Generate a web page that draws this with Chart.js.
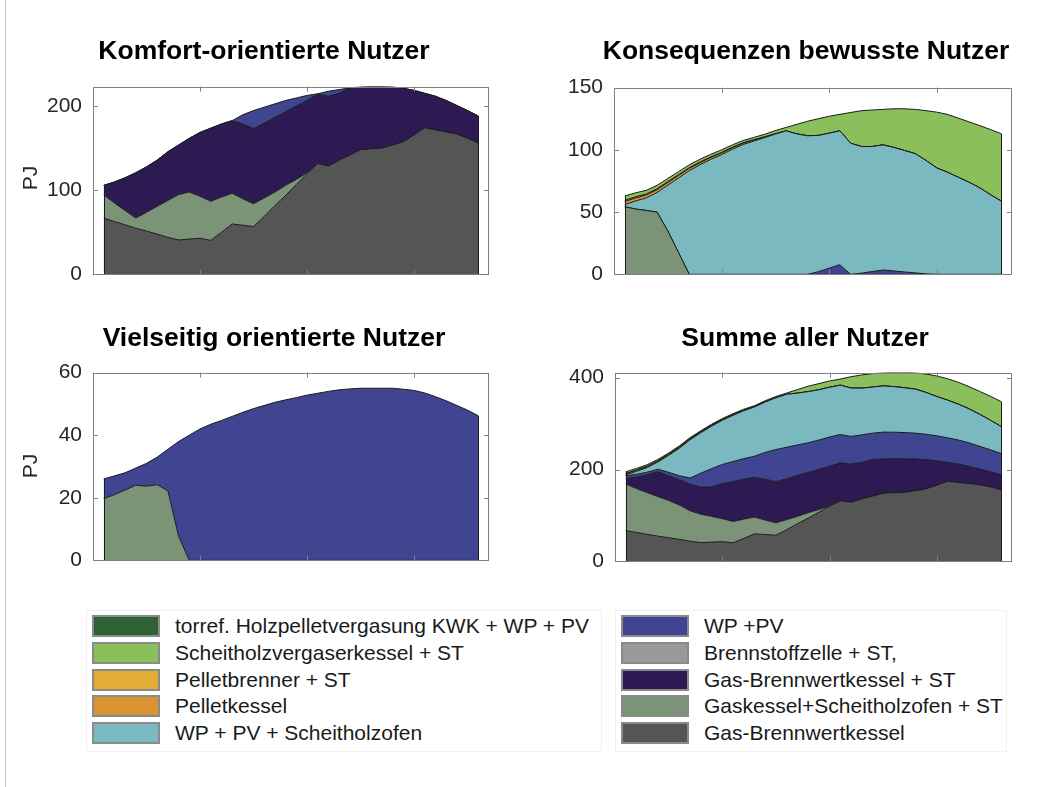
<!DOCTYPE html>
<html>
<head>
<meta charset="utf-8">
<script src="https://cdn.jsdelivr.net/npm/chart.js@4.4.1/dist/chart.umd.min.js"></script>
<style>
  body { margin: 0; background: #fff; font-family: "Liberation Sans", Arial, sans-serif; }
  #fig { position: relative; width: 1051px; height: 787px; overflow: hidden; }
  #fig canvas { position: absolute; }
  #edge { position: absolute; left: 5px; top: 0; width: 1px; height: 787px; background: #c4c4c4; }
  .ttl { position: absolute; width: 500px; text-align: center; font-weight: bold; font-size: 26.5px; color: #000; line-height: normal; }
  .ylab { position: absolute; width: 60px; text-align: center; font-size: 21px; color: #262626; transform: rotate(-90deg); }
  .lgframe { position: absolute; border: 1px solid #f0f0f0; }
  .lgrow { position: absolute; height: 22px; line-height: 22px; font-size: 21px; color: #1a1a1a; white-space: nowrap; }
  .lgrow span.box { position: absolute; left: 0; top: 0; width: 64px; height: 18px; border: 2px solid #8a8a8a; }
  .lgrow span.txt { position: absolute; left: 83px; top: 0; }
</style>
</head>
<body>
<div id="fig">
  <div id="edge"></div>
  <canvas id="cKomfort"></canvas>
  <canvas id="cKons"></canvas>
  <canvas id="cViel"></canvas>
  <canvas id="cSumme"></canvas>
  <div class="ttl" style="left:14px; top:35px;">Komfort-orientierte Nutzer</div>
  <div class="ttl" style="left:556px; top:35px;">Konsequenzen bewusste Nutzer</div>
  <div class="ttl" style="left:24px; top:322px;">Vielseitig orientierte Nutzer</div>
  <div class="ttl" style="left:555px; top:322px;">Summe aller Nutzer</div>
  <div class="ylab" style="left:0px; top:166px;">PJ</div>
  <div class="ylab" style="left:0px; top:454px;">PJ</div>
  <div id="legend"></div>
</div>
<script>
// x positions (years) and axis ticks
const years = [2011, 2012, 2013, 2014, 2015, 2016, 2017, 2018, 2019, 2020,
               2021, 2022, 2023, 2024, 2025, 2026, 2027, 2028, 2029, 2030,
               2031, 2032, 2033, 2034, 2035, 2036, 2037, 2038, 2039, 2040,
               2041, 2042, 2043, 2044, 2045, 2046];
const xTicks = [2020, 2030, 2040];
const yTicksKomfort = [0, 100, 200];
const yTicksKons = [0, 50, 100, 150];
const yTicksViel = [0, 20, 40, 60];
const yTicksSumme = [0, 200, 400];

// Komfort-orientierte Nutzer (PJ)
const komfortGasBW = [67, 63, 59, 55, 51.5, 48, 44, 41, 42, 43, 40.5, 50, 60, 58.5, 57, 69, 82, 94, 107, 120,
                      132, 129, 136, 142, 148.5, 149.5, 150.5, 154, 158, 166, 174.5, 172, 169.5, 167, 162, 156];
const komfortGasScheit = [27.6, 22, 17, 12, 22.5, 33, 44, 54, 56, 50, 46.5, 42, 36.5, 31.5, 27, 22, 16, 12, 6, 1,
                          0, 0, 0, 0, 0, 0, 0, 0, 0, 0, 0, 0, 0, 0, 0, 0];
const komfortGasBWST = [11.4, 25, 39, 54, 54, 55, 58, 59, 64, 76, 87, 87, 86.5, 89, 89.5, 89, 89, 87.5, 87.5, 86,
                        82.5, 83, 79.5, 80, 74.5, 74, 73, 69, 63.5, 53, 41, 40, 37.5, 34, 33, 32.5];
const komfortWPPV = [0, 0, 0, 0, 0, 0, 0, 0, 0, 0, 0, 0, 0, 11, 21.5, 19, 16, 13.5, 9.5, 6,
                     0.5, 6, 4.5, 0, 0, 0, 0, 0, 0, 0, 0, 0, 0, 0, 0, 0];

// Konsequenzen bewusste Nutzer (PJ)
const konsGasScheit = [54.3, 52.5, 51.3, 50, 35, 17.5, 0, 0, 0, 0, 0, 0, 0, 0, 0, 0, 0, 0, 0, 0,
                       0, 0, 0, 0, 0, 0, 0, 0, 0, 0, 0, 0, 0, 0, 0, 0];
const konsWPPV = [0, 0, 0, 0, 0, 0, 0, 0, 0, 0, 0, 0, 0, 0, 0, 0, 0, 0, 2.2, 5,
                  7.8, 0, 1, 2.3, 3.5, 2.8, 2, 1.2, 0.4, 0, 0, 0, 0, 0, 0, 0];
const konsWPPVScheit = [1.7, 6.5, 10.1, 15.8, 36.7, 59.9, 83.3, 88.1, 92.4, 96.1, 100.5, 104.3, 107.1, 109.8, 112.7,
                        115.3, 112.8, 111.3, 109.4, 108.4, 107.5, 105.3, 101.7, 100.4, 100.5, 99.2, 97.5, 95.8,
                        91.1, 85.5, 82, 78, 74, 69.5, 64, 58.8];
const konsPelletkessel = [2.5, 2.4, 2.3, 2.2, 2.1, 2, 1.8, 1.6, 1.5, 1.4, 1.2, 1, 0.8, 0.5, 0.2, 0, 0, 0, 0, 0,
                          0, 0, 0, 0, 0, 0, 0, 0, 0, 0, 0, 0, 0, 0, 0, 0];
const konsPelletbrenner = [1, 0.9, 0.9, 0.8, 0.7, 0.7, 0.6, 0.6, 0.5, 0.5, 0.4, 0.4, 0.3, 0.2, 0.1, 0, 0, 0, 0, 0,
                           0, 0, 0, 0, 0, 0, 0, 0, 0, 0, 0, 0, 0, 0, 0, 0];
const konsScheitVerg = [3.5, 3.2, 2.9, 2.7, 2.5, 2.4, 2.3, 2.2, 2.1, 2, 1.9, 1.8, 1.8, 2, 2.5, 2.7, 7.7, 11.7, 13.4, 13.6,
                        13.2, 24.7, 28.8, 29.3, 28.5, 31, 33.5, 35.5, 40, 44.8, 46.5, 47.5, 48.5, 50, 52.3, 54.2];

// Vielseitig orientierte Nutzer (PJ)
const vielGasScheit = [19.7, 21, 22.5, 24, 23.7, 24.2, 22.2, 7.7, 0, 0, 0, 0, 0, 0, 0, 0, 0, 0, 0, 0,
                       0, 0, 0, 0, 0, 0, 0, 0, 0, 0, 0, 0, 0, 0, 0, 0];
const vielWPPV = [6.3, 6, 5.5, 5.5, 7.3, 8.8, 13.3, 30.3, 40, 42, 43.5, 44.7, 46, 47.3, 48.5, 49.5, 50.5, 51.3, 52, 52.8,
                  53.4, 54, 54.5, 54.8, 55, 55, 55, 55, 54.7, 54.3, 53.5, 52.3, 51, 49.5, 48, 46.2];

// technologies, bottom of the stack first
const techs = [
  { key: 'gasBW', label: 'Gas-Brennwertkessel', color: '#555555' },
  { key: 'gasScheit', label: 'Gaskessel+Scheitholzofen + ST', color: '#7b9477' },
  { key: 'gasBWST', label: 'Gas-Brennwertkessel + ST', color: '#2d1a52' },
  { key: 'brennstoff', label: 'Brennstoffzelle + ST,', color: '#999999' },
  { key: 'wppv', label: 'WP +PV', color: '#3f4590' },
  { key: 'wppvScheit', label: 'WP +  PV + Scheitholzofen', color: '#7bb9c1' },
  { key: 'pelletkessel', label: 'Pelletkessel', color: '#d99333' },
  { key: 'pelletbrenner', label: 'Pelletbrenner + ST', color: '#e2ad35' },
  { key: 'scheitVerg', label: 'Scheitholzvergaserkessel + ST', color: '#8bbf5b' },
  { key: 'torref', label: 'torref. Holzpelletvergasung KWK + WP + PV', color: '#2e6133' },
];

const komfort = { gasBW: komfortGasBW, gasScheit: komfortGasScheit, gasBWST: komfortGasBWST, wppv: komfortWPPV };
const kons = { gasScheit: konsGasScheit, wppv: konsWPPV, wppvScheit: konsWPPVScheit,
               pelletkessel: konsPelletkessel, pelletbrenner: konsPelletbrenner, scheitVerg: konsScheitVerg };
const viel = { gasScheit: vielGasScheit, wppv: vielWPPV };

// sum of all user groups
const summe = {};
[komfort, kons, viel].forEach(group => {
  Object.keys(group).forEach(k => {
    if (!summe[k]) summe[k] = years.map(() => 0);
    group[k].forEach((v, i) => { summe[k][i] += v; });
  });
});

const tickFont = { family: '"Liberation Sans", Arial, sans-serif', size: 21 };

const framePlugin = {
  id: 'frame',
  afterDatasetsDraw(chart, args, opts) {
    const { ctx, chartArea: a, scales: { x, y } } = chart;
    ctx.save();
    // vertical edges of the area patches at both ends
    const top = chart.getDatasetMeta(chart.data.datasets.length - 1).data;
    const y0 = y.getPixelForValue(0);
    ctx.strokeStyle = '#1a1a1a';
    ctx.lineWidth = 1;
    [0, top.length - 1].forEach(i => {
      ctx.beginPath();
      ctx.moveTo(Math.round(top[i].x) + 0.5, y0);
      ctx.lineTo(Math.round(top[i].x) + 0.5, Math.max(top[i].y, a.top));
      ctx.stroke();
    });
    // axes box with inward ticks
    ctx.strokeStyle = '#808080';
    ctx.strokeRect(Math.round(a.left) + 0.5, Math.round(a.top) + 0.5, Math.round(a.width) - 1, Math.round(a.height) - 1);
    const tl = 5;
    ctx.beginPath();
    opts.xTicks.forEach(v => {
      const px = Math.round(x.getPixelForValue(v)) + 0.5;
      ctx.moveTo(px, a.bottom); ctx.lineTo(px, a.bottom - tl);
      ctx.moveTo(px, a.top); ctx.lineTo(px, a.top + tl);
    });
    y.ticks.forEach(t => {
      const py = Math.round(y.getPixelForValue(t.value)) + 0.5;
      ctx.moveTo(a.left, py); ctx.lineTo(a.left + tl, py);
      ctx.moveTo(a.right, py); ctx.lineTo(a.right - tl, py);
    });
    ctx.stroke();
    ctx.restore();
  }
};

function makeChart(id, area, group, yMax, yTicks) {
  const canvas = document.getElementById(id);
  const padL = 70, padT = 20, padR = 10, padB = 15;
  canvas.width = area.right - area.left + padL + padR;
  canvas.height = area.bottom - area.top + padT + padB;
  canvas.style.left = (area.left - padL) + 'px';
  canvas.style.top = (area.top - padT) + 'px';

  const datasets = techs.filter(t => group[t.key]).map((t, i) => ({
    label: t.label,
    data: group[t.key].map((v, j) => ({ x: years[j], y: v })),
    backgroundColor: t.color,
    borderColor: '#1a1a1a',
    borderWidth: 1,
    pointRadius: 0,
    tension: 0,
    fill: i === 0 ? 'origin' : '-1',
  }));

  return new Chart(canvas, {
    type: 'line',
    data: { datasets },
    options: {
      responsive: false,
      animation: false,
      layout: { padding: { left: 0, top: padT, right: padR, bottom: padB } },
      plugins: { legend: { display: false }, tooltip: { enabled: false }, frame: { xTicks } },
      scales: {
        x: { type: 'linear', min: 2010, max: 2047, display: false },
        y: {
          stacked: true,
          min: 0,
          max: yMax,
          afterFit: s => { s.width = padL; },
          afterBuildTicks: s => { s.ticks = yTicks.map(v => ({ value: v })); },
          grid: { display: false, drawTicks: false },
          border: { display: false },
          ticks: { font: tickFont, color: '#262626', padding: 11 },
        },
      },
    },
    plugins: [framePlugin],
  });
}

makeChart('cKomfort', { left: 93, top: 83, right: 489, bottom: 283 }, komfort, 223.5, yTicksKomfort);
makeChart('cKons', { left: 614, top: 84, right: 1012, bottom: 283 }, kons, 150, yTicksKons);
makeChart('cViel', { left: 93, top: 369, right: 489, bottom: 569 }, viel, 60, yTicksViel);
makeChart('cSumme', { left: 615, top: 369, right: 1012, bottom: 570 }, summe, 411, yTicksSumme);

// legend in two columns, as in the figure
const legendLeft = ['torref', 'scheitVerg', 'pelletbrenner', 'pelletkessel', 'wppvScheit'];
const legendRight = ['wppv', 'brennstoff', 'gasBWST', 'gasScheit', 'gasBW'];
const legend = document.getElementById('legend');
[[legendLeft, 92], [legendRight, 621]].forEach(([keys, x0]) => {
  const frame = document.createElement('div');
  frame.className = 'lgframe';
  frame.style.left = (x0 - 6) + 'px';
  frame.style.top = '610px';
  frame.style.width = (x0 === 92 ? 514 : 390) + 'px';
  frame.style.height = '140px';
  legend.appendChild(frame);
  keys.forEach((k, i) => {
    const t = techs.find(tt => tt.key === k);
    const row = document.createElement('div');
    row.className = 'lgrow';
    row.style.left = x0 + 'px';
    row.style.top = (615 + i * 26.8) + 'px';
    row.innerHTML = '<span class="box" style="background:' + t.color + '"></span><span class="txt"></span>';
    row.querySelector('.txt').textContent = t.label;
    legend.appendChild(row);
  });
});
</script>
</body>
</html>
